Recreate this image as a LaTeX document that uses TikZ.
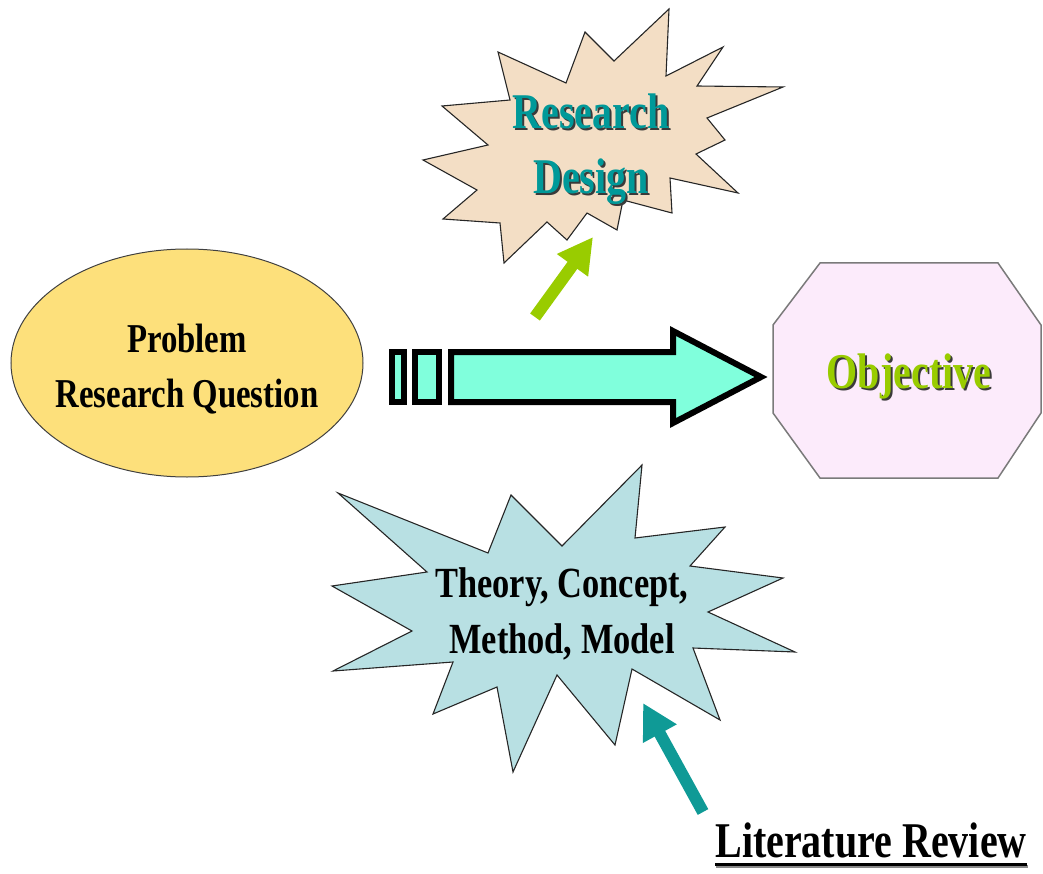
\documentclass[tikz,border=0pt]{standalone}
\usepackage{fontspec}
\setmainfont{Liberation Serif}[FakeStretch=0.8]
\usetikzlibrary{arrows.meta,shapes.geometric}
\definecolor{ellfill}{HTML}{FDE07B}
\definecolor{beige}{HTML}{F3DEC5}
\definecolor{lblue}{HTML}{B8E0E3}
\definecolor{lpink}{HTML}{FCEBFB}
\definecolor{aqua}{HTML}{80FFDC}
\definecolor{tealtxt}{HTML}{009999}
\definecolor{tealarr}{HTML}{0F9A96}
\definecolor{ygreen}{HTML}{99CC00}
\definecolor{shadowc}{HTML}{3A3A3A}
\definecolor{edgegray}{HTML}{7A7A7A}
\tikzset{
  starshape/.style={draw=black!85, line width=1.1pt, line join=miter},
  blockarrow/.style={draw=black, fill=aqua, line width=6pt, line join=miter},
  pointer/.style={line width=12pt, -{Triangle[length=35pt,width=36pt]}},
  boldtext/.style={font=\bfseries, align=center, inner sep=0pt},
}
\begin{document}
\begin{tikzpicture}[x=1pt,y=-1pt]
\useasboundingbox (0,0) rectangle (1043,874);

% Research Design starburst
\draw[starshape, fill=beige] (669,9) -- (666,76) -- (723,47) -- (697,86) -- (783,87) -- (707,118) -- (725,140) -- (696,154) -- (738,193) -- (670,178) -- (672,213) -- (623,200) -- (617,230) -- (587,213) -- (567,240) -- (547,222) -- (504,263) -- (500,223) -- (443,219) -- (477,190) -- (423,160) -- (488,145) -- (442,106) -- (510,100) -- (498,52) -- (566,83) -- (585,32) -- (614,61) -- cycle;
\node[boldtext, text=shadowc, font=\bfseries\fontsize{50}{65}\selectfont] (rdshadow) at (593,151) {Research\\Design};
\node[boldtext, text=tealtxt, font=\bfseries\fontsize{50}{65}\selectfont] (rd) at (591,149) {Research\\Design};

% Theory starburst
\draw[starshape, fill=lblue] (642,465) -- (635,538) -- (725,527) -- (690,566) -- (783,578) -- (708,612) -- (795,652) -- (693,648) -- (720,720) -- (632,669) -- (615,745) -- (557,675) -- (513,772) -- (497,687) -- (433,714) -- (453,662) -- (333,671) -- (412,631) -- (332,586) -- (427,572) -- (338,493) -- (488,553) -- (511,495) -- (562,546) -- cycle;
\node[boldtext, text=black, font=\bfseries\fontsize{43}{56}\selectfont] (theory) at (562,614) {Theory, Concept,\\Method, Model};

% Problem ellipse
\node[draw=black!75, line width=1pt, fill=ellfill, ellipse, minimum width=352pt, minimum height=228pt] (prob) at (187,363) {};
\node[boldtext, text=black, font=\bfseries\fontsize{41}{55}\selectfont] (probtext) at (187,369) {Problem\\Research Question};

% Objective octagon
\draw[draw=edgegray, line width=1.5pt, fill=lpink] (820,263) -- (998,263) -- (1041,325) -- (1041,413) -- (998,478) -- (820,478) -- (773,413) -- (773,325) -- cycle;
\node[boldtext, anchor=base, text=shadowc, font=\bfseries\fontsize{50}{60}\selectfont] (objshadow) at (911,390) {Objective};
\node[boldtext, anchor=base, text=ygreen, font=\bfseries\fontsize{50}{60}\selectfont] (obj) at (909,388) {Objective};

% Block arrow
\draw[blockarrow] (392,352) rectangle (404,402);
\draw[blockarrow] (415,352) rectangle (439,402);
\draw[blockarrow] (451,352) -- (673,352) -- (673,331) -- (761,377) -- (673,423) -- (673,402) -- (451,402) -- cycle;

% Green pointer
\coordinate (gtail) at (535,317);
\coordinate (gtip) at (593,237);
\draw[pointer, ygreen] (gtail) -- (gtip);

% Teal pointer
\coordinate (ttail) at (703,812);
\coordinate (ttip) at (643,703);
\draw[pointer, tealarr] (ttail) -- (ttip);

% Literature Review
\node[boldtext, anchor=base, text=black, font=\bfseries\fontsize{50}{60}\selectfont] (lit) at (871,857) {Literature Review};
\draw[line width=3pt, shadowc!60] ([xshift=1pt,yshift=-9pt]lit.base west) -- ([xshift=1pt,yshift=-9pt]lit.base east);
\draw[line width=3pt, black] ([yshift=-7pt]lit.base west) -- ([yshift=-7pt]lit.base east);
\end{tikzpicture}
\end{document}
